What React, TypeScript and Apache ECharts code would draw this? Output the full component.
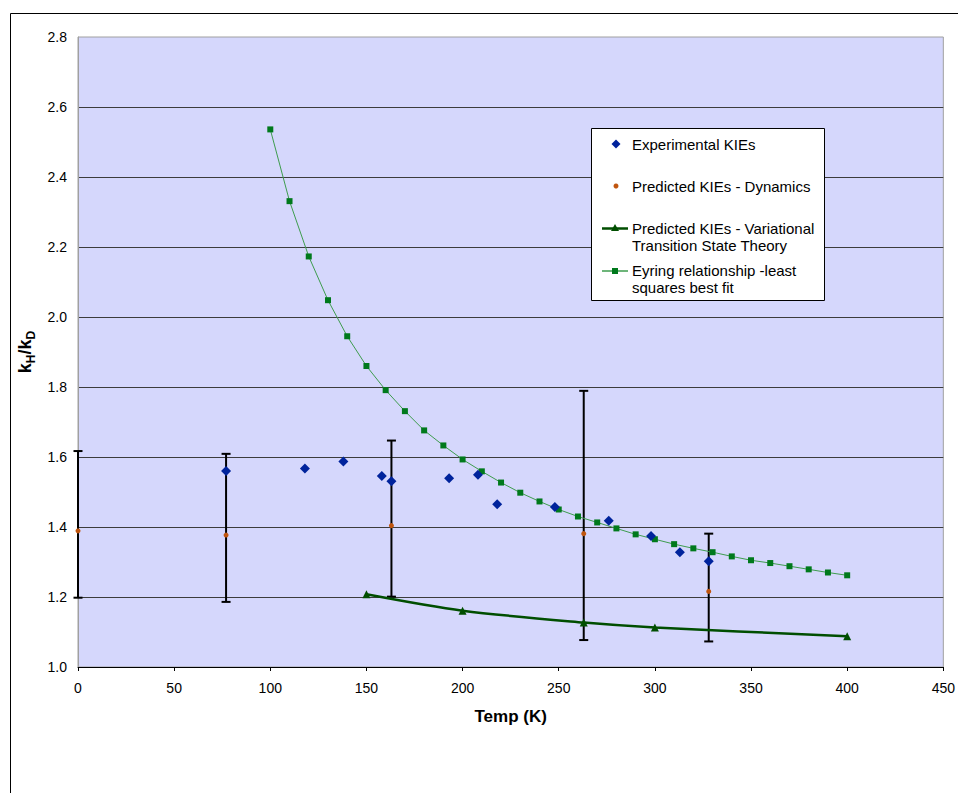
import React, { useEffect, useRef } from "react";
import * as echarts from "echarts";

// Experimental KIEs
const expTemp = [77, 118, 138, 158, 163, 193, 208, 218, 248, 276, 298, 313, 328];
const expKIE = [1.56, 1.567, 1.587, 1.546, 1.531, 1.539, 1.549, 1.465, 1.457, 1.418, 1.374, 1.328, 1.302];

// Predicted KIEs - Dynamics (with error bars)
const dynTemp = [0, 77, 163, 263, 328];
const dynKIE = [1.389, 1.377, 1.404, 1.381, 1.216];
const dynLow = [1.198, 1.186, 1.201, 1.077, 1.073];
const dynHigh = [1.617, 1.609, 1.647, 1.789, 1.381];

// Predicted KIEs - Variational Transition State Theory
const vtstTemp = [150, 200, 263, 300, 400];
const vtstKIE = [1.208, 1.161, 1.127, 1.113, 1.088];

// Eyring relationship - least squares best fit
const eyrTemp = [100, 110, 120, 130, 140, 150, 160, 170, 180, 190, 200, 210, 220, 230, 240, 250, 260, 270, 280, 290, 300, 310, 320, 330, 340, 350, 360, 370, 380, 390, 400];
const eyrKIE = [2.536, 2.331, 2.173, 2.048, 1.945, 1.86, 1.791, 1.731, 1.676, 1.633, 1.593, 1.559, 1.527, 1.498, 1.473, 1.45, 1.43, 1.413, 1.396, 1.379, 1.365, 1.351, 1.339, 1.328, 1.316, 1.305, 1.297, 1.288, 1.279, 1.27, 1.262];

const seriesNames = [
  "Experimental KIEs",
  "Predicted KIEs - Dynamics",
  "Predicted KIEs - Variational\nTransition State Theory",
  "Eyring relationship -least\nsquares best fit",
];

const FONT = "'Liberation Sans', Arial, sans-serif";

const C_EXP = "#00239C";
const C_DYN = "#C0550E";
const C_VTST = "#004E00";
const C_EYR_LINE = "#3E9C4E";
const C_EYR_MARK = "#00791C";

export default function App() {
  const ref = useRef<HTMLDivElement>(null);
  useEffect(() => {
    if (!ref.current) return;
    const chart = echarts.init(ref.current, null, { renderer: "svg" });
    const zip = (a: number[], b: number[]) => a.map((v, i) => [v, b[i]]);
    const errData = dynTemp.map((t, i) => [t, dynLow[i], dynHigh[i]]);
    const txt = (text: string, x: number, y: number, top = false) => ({
      type: "text",
      z: 6,
      silent: true,
      style: {
        text,
        x,
        y,
        fontSize: 15,
        lineHeight: 16.7,
        fontFamily: FONT,
        fill: "#000",
        verticalAlign: top ? "top" : "middle",
        align: "left",
      },
    });
    const option: any = {
      animation: false,
      backgroundColor: "#fff",
      grid: {
        left: 78,
        top: 37,
        right: 13,
        bottom: 126,
        show: true,
        backgroundColor: "#D5D7FC",
        borderColor: "#A0A0A0",
        borderWidth: 1,
      },
      graphic: [
        {
          type: "rect",
          z: 0,
          silent: true,
          shape: { x: 10.5, y: 13.5, width: 2000, height: 2000 },
          style: { fill: "none", stroke: "#000", lineWidth: 1 },
        },
        {
          type: "rect",
          z: 5,
          silent: true,
          shape: { x: 591.5, y: 128.5, width: 233, height: 172 },
          style: { fill: "#fff", stroke: "#000", lineWidth: 1 },
        },
        // legend item 1: diamond
        {
          type: "polygon",
          z: 6,
          silent: true,
          shape: { points: [[616, 139.5], [620.5, 144], [616, 148.5], [611.5, 144]] },
          style: { fill: C_EXP },
        },
        txt(seriesNames[0], 632, 144),
        // legend item 2: dot
        {
          type: "circle",
          z: 6,
          silent: true,
          shape: { cx: 616, cy: 186, r: 2.5 },
          style: { fill: C_DYN },
        },
        txt(seriesNames[1], 632, 186),
        // legend item 3: thick line + triangle
        {
          type: "line",
          z: 6,
          silent: true,
          shape: { x1: 602, y1: 228.5, x2: 628, y2: 228.5 },
          style: { stroke: C_VTST, lineWidth: 2.5 },
        },
        {
          type: "polygon",
          z: 6,
          silent: true,
          shape: { points: [[615, 224], [619, 231], [611, 231]] },
          style: { fill: C_VTST },
        },
        txt(seriesNames[2], 632, 220, true),
        // legend item 4: thin line + square
        {
          type: "line",
          z: 6,
          silent: true,
          shape: { x1: 602, y1: 271, x2: 628, y2: 271 },
          style: { stroke: C_EYR_LINE, lineWidth: 1.5 },
        },
        {
          type: "rect",
          z: 6,
          silent: true,
          shape: { x: 612, y: 268, width: 6, height: 6 },
          style: { fill: C_EYR_MARK },
        },
        txt(seriesNames[3], 632, 262.6, true),
      ],
      xAxis: {
        type: "value",
        min: 0,
        max: 450,
        interval: 50,
        name: "Temp (K)",
        nameLocation: "middle",
        nameGap: 41,
        nameTextStyle: { fontSize: 17, fontWeight: "bold", color: "#000", fontFamily: FONT },
        axisLine: { show: true, onZero: false, lineStyle: { color: "#000", width: 1 } },
        axisTick: { show: true, inside: false, length: 4, lineStyle: { color: "#000" } },
        axisLabel: { fontSize: 14, color: "#000", margin: 14, fontFamily: FONT },
        splitLine: { show: false },
      },
      yAxis: {
        type: "value",
        min: 1,
        max: 2.8,
        interval: 0.2,
        name: "{m|k}{s|H}{m|/k}{s|D}",
        nameLocation: "middle",
        nameGap: 35,
        nameTextStyle: {
          color: "#000",
          fontFamily: FONT,
          rich: {
            m: { fontSize: 18, fontWeight: "bold", fontFamily: FONT, color: "#000", verticalAlign: "bottom" },
            s: { fontSize: 12, fontWeight: "bold", fontFamily: FONT, color: "#000", verticalAlign: "bottom", padding: [0, 0, -3, 0] },
          },
        },
        axisLine: { show: true, lineStyle: { color: "#A0A0A0", width: 1 } },
        axisTick: { show: false },
        axisLabel: {
          fontSize: 14,
          color: "#000",
          margin: 11,
          fontFamily: FONT,
          formatter: (v: number) => v.toFixed(1),
        },
        splitLine: { show: true, showMaxLine: false, lineStyle: { color: "#3c3c3c", width: 1 } },
      },
      series: [
        {
          name: "errorbars",
          type: "custom",
          clip: false,
          z: 2,
          data: errData,
          renderItem: (params: any, api: any) => {
            const x = api.value(0);
            const lo = api.coord([x, api.value(1)]);
            const hi = api.coord([x, api.value(2)]);
            const hw = 4.5;
            const st = { stroke: "#000", lineWidth: 2 };
            return {
              type: "group",
              children: [
                { type: "line", shape: { x1: lo[0], y1: lo[1], x2: hi[0], y2: hi[1] }, style: st },
                { type: "line", shape: { x1: lo[0] - hw, y1: lo[1], x2: lo[0] + hw, y2: lo[1] }, style: st },
                { type: "line", shape: { x1: hi[0] - hw, y1: hi[1], x2: hi[0] + hw, y2: hi[1] }, style: st },
              ],
            };
          },
        },
        {
          name: seriesNames[3],
          type: "line",
          data: zip(eyrTemp, eyrKIE),
          symbol: "rect",
          symbolSize: 6,
          showAllSymbol: true,
          z: 3,
          lineStyle: { color: C_EYR_LINE, width: 1 },
          itemStyle: { color: C_EYR_MARK },
        },
        {
          name: seriesNames[2],
          type: "line",
          data: zip(vtstTemp, vtstKIE),
          symbol: "triangle",
          symbolSize: 8,
          smooth: 0.3,
          z: 3,
          lineStyle: { color: C_VTST, width: 2.5 },
          itemStyle: { color: C_VTST },
        },
        {
          name: seriesNames[0],
          type: "scatter",
          data: zip(expTemp, expKIE),
          symbol: "diamond",
          symbolSize: 10,
          z: 4,
          itemStyle: { color: C_EXP, opacity: 1 },
        },
        {
          name: seriesNames[1],
          type: "scatter",
          data: zip(dynTemp, dynKIE),
          symbol: "circle",
          symbolSize: 5,
          z: 4,
          itemStyle: { color: C_DYN, opacity: 1 },
        },
      ],
    };
    chart.setOption(option);
    return () => chart.dispose();
  }, []);
  return (
    <div
      ref={ref}
      style={{ position: "fixed", left: 0, top: 0, width: 958, height: 793, background: "#fff" }}
    />
  );
}
